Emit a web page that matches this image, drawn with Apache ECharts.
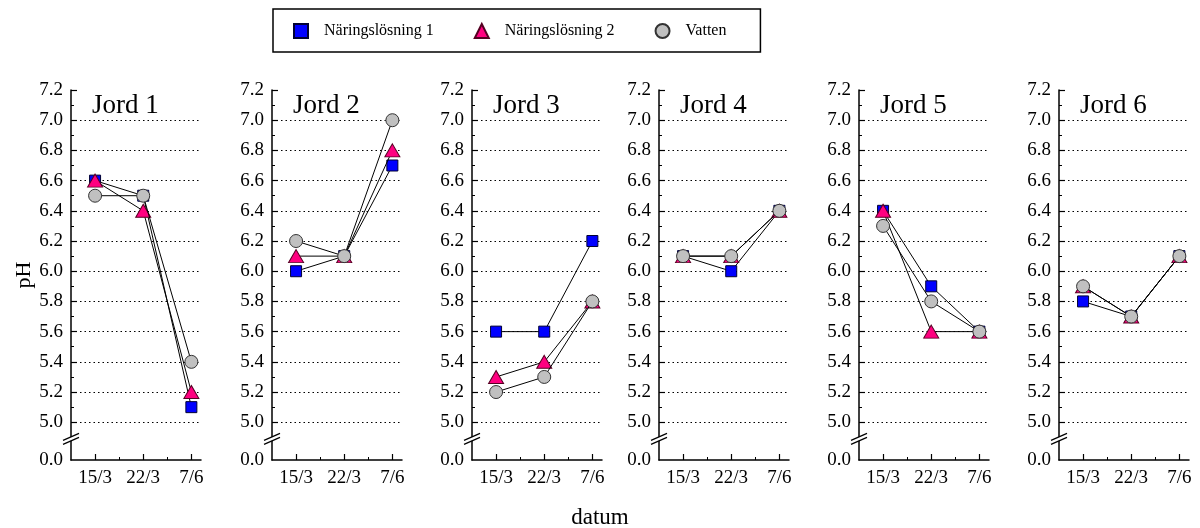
<!DOCTYPE html>
<html>
<head>
<meta charset="utf-8">
<script src="https://cdn.jsdelivr.net/npm/echarts@6/dist/echarts.min.js"></script>
<style>html,body{margin:0;padding:0;background:#fff;}#c{width:1200px;height:528px;}</style>
</head>
<body>
<div id="c"></div>
<script>
// ---- data ----
const categories = ['15/3', '22/3', '7/6'];
const panelNames = ['Jord 1', 'Jord 2', 'Jord 3', 'Jord 4', 'Jord 5', 'Jord 6'];
const seriesNames = ['Näringslösning 1', 'Näringslösning 2', 'Vatten'];
const naring1 = [[6.6, 6.5, 5.1], [6.0, 6.1, 6.7], [5.6, 5.6, 6.2], [6.1, 6.0, 6.4], [6.4, 5.9, 5.6], [5.8, 5.7, 6.1]];
const naring2 = [[6.6, 6.4, 5.2], [6.1, 6.1, 6.8], [5.3, 5.4, 5.8], [6.1, 6.1, 6.4], [6.4, 5.6, 5.6], [5.9, 5.7, 6.1]];
const vatten  = [[6.5, 6.5, 5.4], [6.2, 6.1, 7.0], [5.2, 5.3, 5.8], [6.1, 6.1, 6.4], [6.3, 5.8, 5.6], [5.9, 5.7, 6.1]];
const yTickValues = [4.75, 5.0, 5.2, 5.4, 5.6, 5.8, 6.0, 6.2, 6.4, 6.6, 6.8, 7.0, 7.2];
const yTickLabels = ['0.0', '5.0', '5.2', '5.4', '5.6', '5.8', '6.0', '6.2', '6.4', '6.6', '6.8', '7.0', '7.2'];
const yMinorTicks = [5.1, 5.3, 5.5, 5.7, 5.9, 6.1, 6.3, 6.5, 6.7, 6.9, 7.1];
const gridValues = [5.0, 5.2, 5.4, 5.6, 5.8, 6.0, 6.2, 6.4, 6.6, 6.8, 7.0];

// ---- layout / style ----
const FONT = 'Liberation Serif';
const gridLefts = [71, 272, 472, 659, 859, 1059];
const GRID_W = 130, GRID_TOP = 90, GRID_H = 370;
const Y_MIN = 4.75, Y_MAX = 7.2, X_MIN = 0.5, X_MAX = 3.2, BREAK_AT = 4.89;
const xPositions = categories.map((c, j) => j + 1);
const xMinor = [1.5, 2.5];
const styles = [
  { symbol: 'rect', size: 11, color: '#0000ff', border: '#000033', icon: 'rect' },
  { symbol: 'triangle', size: [15, 13], color: '#ff0080', border: '#550022', icon: 'triangle' },
  { symbol: 'circle', size: 13, color: '#c0c0c0', border: '#333333', icon: 'circle' }
];
const allData = [naring1, naring2, vatten];

const grids = [], xAxes = [], yAxes = [], series = [], titles = [];
gridLefts.forEach((left, i) => {
  grids.push({ left: left, top: GRID_TOP, width: GRID_W, height: GRID_H, containLabel: false });
  // main x axis
  xAxes.push({
    gridIndex: i, type: 'value', min: X_MIN, max: X_MAX, position: 'bottom',
    axisLine: { show: true, onZero: false, lineStyle: { color: '#000', width: 1.5 } },
    axisTick: { show: true, inside: true, length: 6, customValues: xPositions, lineStyle: { color: '#000', width: 1.2 } },
    axisLabel: { show: true, customValues: xPositions, formatter: v => categories[Math.round(v) - 1],
      fontFamily: FONT, fontSize: 19, color: '#000', margin: 9 },
    splitLine: { show: false }
  });
  // minor x axis
  xAxes.push({
    gridIndex: i, type: 'value', min: X_MIN, max: X_MAX, position: 'bottom',
    axisLine: { show: false, onZero: false },
    axisTick: { show: true, inside: true, length: 3, customValues: xMinor, lineStyle: { color: '#000', width: 1 } },
    axisLabel: { show: false }, splitLine: { show: false }
  });
  // main y axis
  yAxes.push({
    gridIndex: i, type: 'value', min: Y_MIN, max: Y_MAX, position: 'left',
    name: i === 0 ? 'pH' : '', nameLocation: 'middle', nameGap: 35, nameRotate: 90,
    nameTextStyle: { fontFamily: FONT, fontSize: 22, color: '#000' },
    axisLine: { show: true, onZero: false, lineStyle: { color: '#000', width: 1.5 } },
    axisTick: { show: true, inside: true, length: 6, customValues: yTickValues.slice(1), lineStyle: { color: '#000', width: 1.2 } },
    axisLabel: { show: true, customValues: yTickValues,
      formatter: v => { const k = yTickValues.findIndex(t => Math.abs(t - v) < 1e-6); return k >= 0 ? yTickLabels[k] : ''; },
      fontFamily: FONT, fontSize: 19, color: '#000', margin: 8 },
    splitLine: { show: false }
  });
  // minor y axis
  yAxes.push({
    gridIndex: i, type: 'value', min: Y_MIN, max: Y_MAX, position: 'left',
    axisLine: { show: false, onZero: false },
    axisTick: { show: true, inside: true, length: 3, customValues: yMinorTicks, lineStyle: { color: '#000', width: 1 } },
    axisLabel: { show: false }, splitLine: { show: false }
  });
  titles.push({ text: panelNames[i], left: left + 16, top: GRID_TOP - 3,
    textStyle: { fontFamily: FONT, fontSize: 27, fontWeight: 'normal', color: '#000' } });

  allData.forEach((arr, s) => {
    const st = styles[s];
    const ser = {
      name: seriesNames[s], type: 'line', xAxisIndex: 2 * i, yAxisIndex: 2 * i,
      data: arr[i].map((v, j) => [xPositions[j], v]),
      symbol: st.symbol, symbolSize: st.size, showSymbol: true,
      itemStyle: { color: st.color, borderColor: st.border, borderWidth: 1 },
      lineStyle: { color: '#000', width: 1 },
      emphasis: { disabled: true }, z: 3 + s
    };
    if (s === 0) {
      ser.markLine = {
        silent: true, symbol: ['none', 'none'], label: { show: false }, z: 1,
        lineStyle: { color: '#000', type: [1.5, 3], width: 1.2 },
        data: gridValues.map(v => ({ yAxis: v }))
      };
    }
    series.push(ser);
  });
});

titles.push({ text: 'datum', left: 'center', top: 501,
  textStyle: { fontFamily: FONT, fontSize: 23, fontWeight: 'normal', color: '#000' } });

const chart = echarts.init(document.getElementById('c'), null, { renderer: 'canvas' });
chart.setOption({
  animation: false,
  backgroundColor: '#fff',
  title: titles,
  legend: {
    left: 273, top: 9, orient: 'horizontal',
    data: seriesNames.map((n, s) => ({ name: n, icon: styles[s].icon })),
    itemWidth: 14, itemHeight: 14, itemGap: 40,
    borderColor: '#000', borderWidth: 1.5, borderRadius: 0,
    padding: [14, 34, 13, 20],
    textStyle: { fontFamily: FONT, fontSize: 16, color: '#000', padding: [0, 0, 0, 11] },
    selectedMode: false
  },
  grid: grids, xAxis: xAxes, yAxis: yAxes, series: series
});

// axis break marks
const graphics = [];
gridLefts.forEach((left, i) => {
  const p = chart.convertToPixel({ xAxisIndex: 2 * i, yAxisIndex: 2 * i }, [X_MIN, BREAK_AT]);
  const x = p[0], y = p[1];
  graphics.push({ type: 'rect', shape: { x: x - 2, y: y - 2, width: 4, height: 4 }, style: { fill: '#fff' }, z: 100 });
  graphics.push({ type: 'line', shape: { x1: x - 8, y1: y + 5.5, x2: x + 8, y2: y - 1.5 }, style: { stroke: '#000', lineWidth: 1.2 }, z: 101 });
  graphics.push({ type: 'line', shape: { x1: x - 8, y1: y + 1.5, x2: x + 8, y2: y - 5.5 }, style: { stroke: '#000', lineWidth: 1.2 }, z: 101 });
});
chart.setOption({ graphic: graphics });
</script>
</body>
</html>
